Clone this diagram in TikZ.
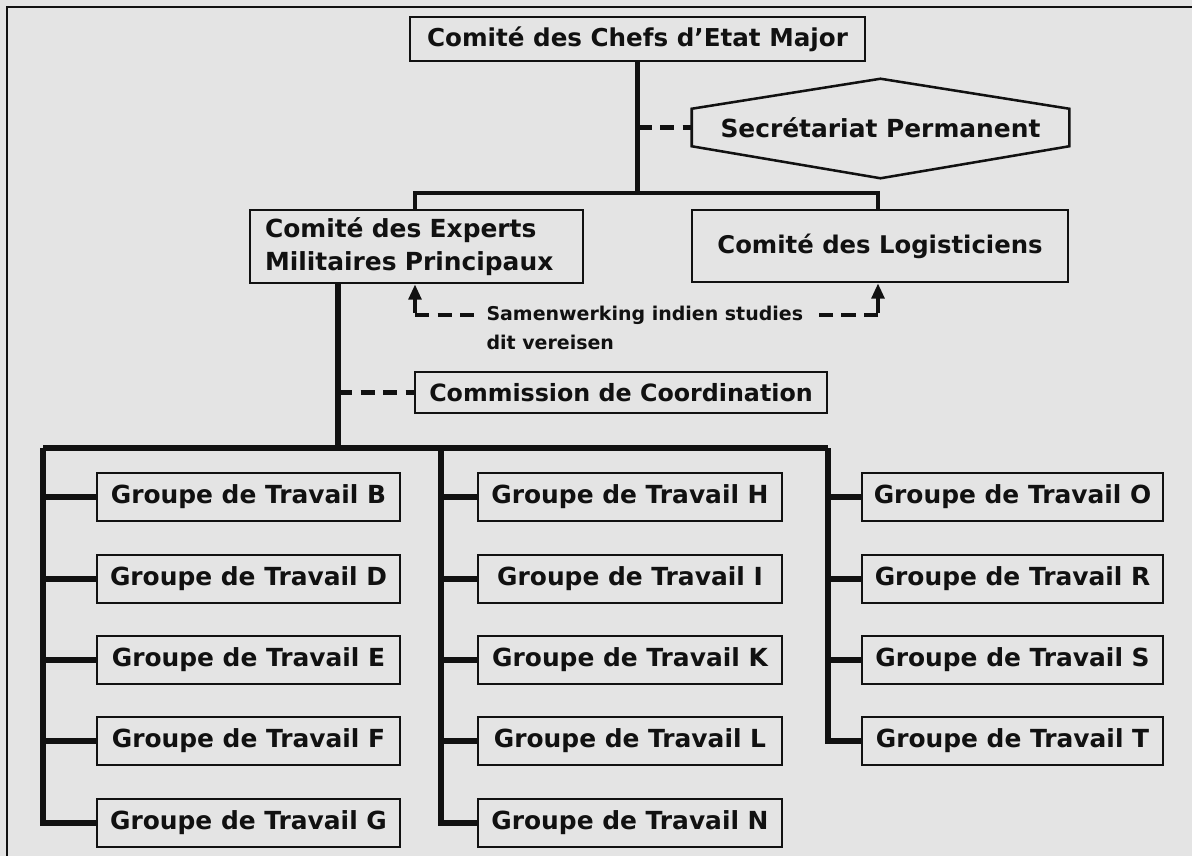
\documentclass[tikz,border=0pt]{standalone}
\usepackage{fontspec}
\newfontfamily\df{DejaVu Sans}
\usetikzlibrary{arrows.meta,calc}
\definecolor{paper}{RGB}{228,228,228}
\definecolor{ink}{RGB}{17,17,17}
\tikzset{
  box/.style={draw=ink, line width=1.8pt, inner sep=0pt, text=ink,
    font=\df\bfseries\fontsize{17.7}{23.4}\selectfont},
  fs/.style={font=\df\bfseries\fontsize{#1}{23.4}\selectfont},
  conn/.style={draw=ink, line width=3.8pt, line join=miter},
  tconn/.style={draw=ink, line width=3pt, line join=miter},
  dashc/.style={draw=ink, line width=3.2pt, dash pattern=on 10pt off 6pt},
  upar/.style={draw=ink, line width=3.2pt, -{Triangle[length=11pt,width=9pt]}},
  small/.style={inner sep=3pt, text=ink, font=\df\bfseries\fontsize{13.5}{19}\selectfont},
}
\newcommand\pbox[7][]{\node[box, #1, minimum width={(#5-#3)*0.025cm}, minimum height={(#6-#4)*0.025cm}] (#2) at ({(#3+#5)/2},{(#4+#6)/2}) {#7};}
\begin{document}
\begin{tikzpicture}[x=0.025cm,y=-0.025cm]
\fill[paper] (0,0) rectangle (1192,856);
\useasboundingbox (0,0) rectangle (1192,856);
% frame
\draw[ink, line width=1.4pt] (7,856) -- (7,7) -- (1192,7);
% top
\pbox[fs=17.5]{top}{410}{17}{865}{61}{Comité des Chefs d’Etat Major}
\node[box, draw=none, minimum width={375*0.025cm}, minimum height={35*0.025cm}] (sec) at (880.5,127.5) {Secrétariat Permanent};
\draw[ink, line width=1.8pt, line join=miter] (sec.north west) -- ($(sec.north)+(0,-30)$) -- (sec.north east) -- (sec.south east) -- ($(sec.south)+(0,32)$) -- (sec.south west) -- cycle;
% second level
\node[box, align=left, inner xsep={15*0.025cm}, text width={303*0.025cm}, minimum height={73*0.025cm}] (exp) at (416.5,246.5) {Comité des Experts\\Militaires Principaux};
\pbox[fs=17.3]{log}{692}{210}{1068}{282}{Comité des Logisticiens}
\pbox[fs=16.9]{comm}{415}{372}{827}{413}{Commission de Coordination}
\coordinate (bl) at (415,193);
\coordinate (br) at (878,193);
\draw[tconn] (top.south) -- (top.south |- bl);
\draw[tconn] (bl |- exp.north) -- (bl) -- (br) -- (br |- log.north);
\draw[dashc] (top.south |- sec.west) -- (sec.west);
% cooperation
\node[small, anchor=west] (sam1) at (482,315) {Samenwerking indien studies};
\node[small, anchor=west] (sam2) at (482,342) {dit vereisen};
\coordinate (cl) at (415,315);
\coordinate (cr) at (878,315);
\draw[dashc] (cl) -- (sam1.west);
\draw[dashc] (cr) -- ([xshift=6pt]sam1.east);
\draw[upar] ([yshift=1.6pt]cl) -- (cl |- exp.south);
\draw[upar] ([yshift=1.6pt]cr) -- (cr |- log.south);
% trunk
\coordinate (tk) at (338,448);
\draw[conn] (exp.south -| tk) -- (tk);
\draw[dashc] (tk |- comm.west) -- (comm.west);
% working groups
\pbox{gB}{97}{473}{400}{521}{Groupe de Travail B}
\pbox{gD}{97}{555}{400}{603}{Groupe de Travail D}
\pbox{gE}{97}{636}{400}{684}{Groupe de Travail E}
\pbox{gF}{97}{717}{400}{765}{Groupe de Travail F}
\pbox{gG}{97}{799}{400}{847}{Groupe de Travail G}
\pbox{gH}{478}{473}{782}{521}{Groupe de Travail H}
\pbox{gI}{478}{555}{782}{603}{Groupe de Travail I}
\pbox{gK}{478}{636}{782}{684}{Groupe de Travail K}
\pbox{gL}{478}{717}{782}{765}{Groupe de Travail L}
\pbox{gN}{478}{799}{782}{847}{Groupe de Travail N}
\pbox{gO}{862}{473}{1163}{521}{Groupe de Travail O}
\pbox{gR}{862}{555}{1163}{603}{Groupe de Travail R}
\pbox{gS}{862}{636}{1163}{684}{Groupe de Travail S}
\pbox{gT}{862}{717}{1163}{765}{Groupe de Travail T}
\coordinate (lt) at (43,448);
\coordinate (mt) at (441,448);
\coordinate (rt) at (828,448);
\draw[conn] (lt) -- (rt);
\draw[conn] (lt) |- (gG.west);
\draw[conn] (mt) |- (gN.west);
\draw[conn] (rt) |- (gT.west);
\foreach \g in {gB,gD,gE,gF} \draw[conn] (\g.west -| lt) -- (\g.west);
\foreach \g in {gH,gI,gK,gL} \draw[conn] (\g.west -| mt) -- (\g.west);
\foreach \g in {gO,gR,gS} \draw[conn] (\g.west -| rt) -- (\g.west);
\end{tikzpicture}
\end{document}
